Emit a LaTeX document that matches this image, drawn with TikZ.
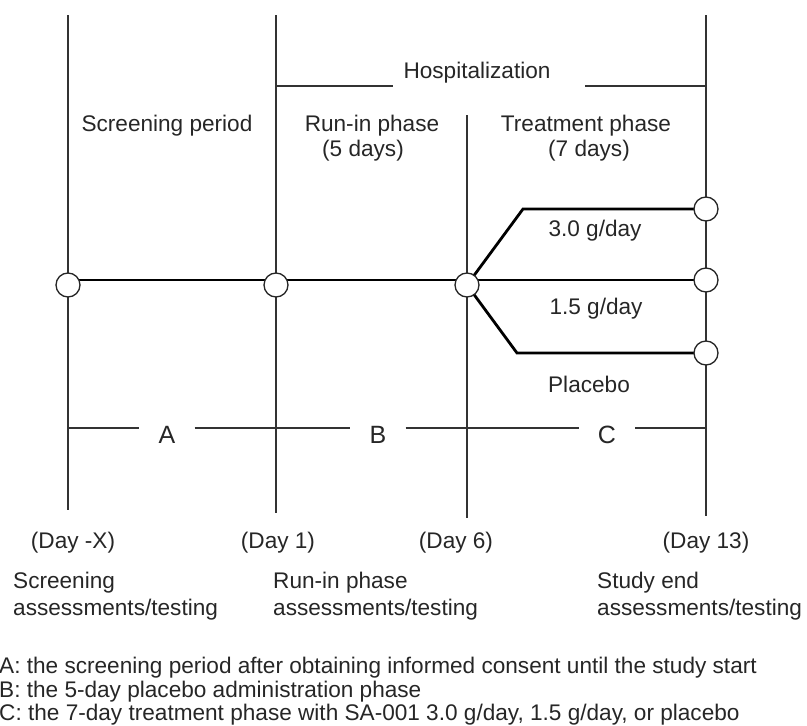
\documentclass[tikz,border=0pt]{standalone}
\usepackage{fontspec}
\setmainfont{Liberation Sans}
\usetikzlibrary{backgrounds}
\begin{document}
\begin{tikzpicture}[x=1pt,y=-1pt,
  tline/.style={draw=black!80,line width=1.4pt},
  bline/.style={draw=black,line width=2.8pt},
  circ/.style={circle,draw=black!85,line width=1.3pt,fill=white,minimum size=24pt,inner sep=0pt},
  lbl/.style={font=\fontsize{22.6}{27}\selectfont,text=black!85,inner sep=0pt},
  letter/.style={font=\fontsize{25}{30}\selectfont,text=black!85,inner ysep=0pt,inner xsep=19pt}]
\useasboundingbox (0,0) rectangle (807,726);

% timeline points
\coordinate (top1) at (68,15);  \coordinate (bot1) at (68,510);
\coordinate (top2) at (276,15); \coordinate (bot2) at (276,513);
\coordinate (top3) at (467,115);\coordinate (bot3) at (467,518);
\coordinate (top4) at (706,15); \coordinate (bot4) at (706,516);
\coordinate (h1) at (276,86); \coordinate (h1e) at (393,86);
\coordinate (h2) at (585,86); \coordinate (h2e) at (706,86);
\coordinate (L0) at (68,428); \coordinate (L4) at (706,428);
\coordinate (k1) at (523,209); \coordinate (k2) at (517,353);

% circles
\node[circ] (c1) at (68,285) {};
\node[circ] (c2) at (276,285) {};
\node[circ] (c3) at (467,285) {};
\node[circ] (r1) at (706,209) {};
\node[circ] (r2) at (706,280) {};
\node[circ] (r3) at (706,353) {};

% labels
\node[lbl,anchor=base] (hosp) at (477,78) {Hospitalization};
\node[lbl,anchor=base] (scr) at (167,131) {Screening period};
\node[lbl,anchor=base] (run1) at (372,131) {Run-in phase};
\node[lbl,anchor=base] (run2) at (363,156) {(5 days)};
\node[lbl,anchor=base] (trt1) at (586,131) {Treatment phase};
\node[lbl,anchor=base] (trt2) at (589,156) {(7 days)};
\node[lbl,anchor=base] (d30) at (595,236) {3.0 g/day};
\node[lbl,anchor=base] (d15) at (596,314) {1.5 g/day};
\node[lbl,anchor=base] (pla) at (589,392) {Placebo};

\node[letter,anchor=base] (A) at (167,443) {A};
\node[letter,anchor=base] (B) at (378,443) {B};
\node[letter,anchor=base] (C) at (607,443) {C};

\node[lbl,anchor=base] (dx) at (73,548) {(Day -X)};
\node[lbl,anchor=base] (d1) at (278,548) {(Day 1)};
\node[lbl,anchor=base] (d6) at (456,548) {(Day 6)};
\node[lbl,anchor=base] (d13) at (706,548) {(Day 13)};

\node[lbl,anchor=base west] (s1) at (13,588) {Screening};
\node[lbl,anchor=base west] (s2) at (13,615) {assessments/testing};
\node[lbl,anchor=base west] (ri1) at (273,588) {Run-in phase};
\node[lbl,anchor=base west] (ri2) at (273,615) {assessments/testing};
\node[lbl,anchor=base west] (se1) at (597,588) {Study end};
\node[lbl,anchor=base west] (se2) at (597,615) {assessments/testing};

\node[lbl,anchor=base west] (legA) at (-1,673) {A: the screening period after obtaining informed consent until the study start};
\node[lbl,anchor=base west] (legB) at (-1,697) {B: the 5-day placebo administration phase};
\node[lbl,anchor=base west] (legC) at (-1,720) {C: the 7-day treatment phase with SA-001 3.0 g/day, 1.5 g/day, or placebo};

\begin{pgfonlayer}{background}
  \draw[tline] (top1) -- (bot1);
  \draw[tline] (top2) -- (bot2);
  \draw[tline] (top3) -- (bot3);
  \draw[tline] (top4) -- (bot4);
  \draw[tline] (h1) -- (h1e);
  \draw[tline] (h2) -- (h2e);
  \draw[tline] (L0) -- (A.west |- L0);
  \draw[tline] (A.east |- L0) -- (B.west |- L0);
  \draw[tline] (B.east |- L0) -- (C.west |- L0);
  \draw[tline] (C.east |- L0) -- (L4);
  \draw[bline] ([yshift=5pt]c1.center) -- ([yshift=5pt]c2.center) -- ([yshift=5pt]c3.center) -- (r2.center);
  \draw[bline] (c3.center) -- (k1) -- (r1.center);
  \draw[bline] (c3.center) -- (k2) -- (r3.center);
\end{pgfonlayer}
\end{tikzpicture}
\end{document}
